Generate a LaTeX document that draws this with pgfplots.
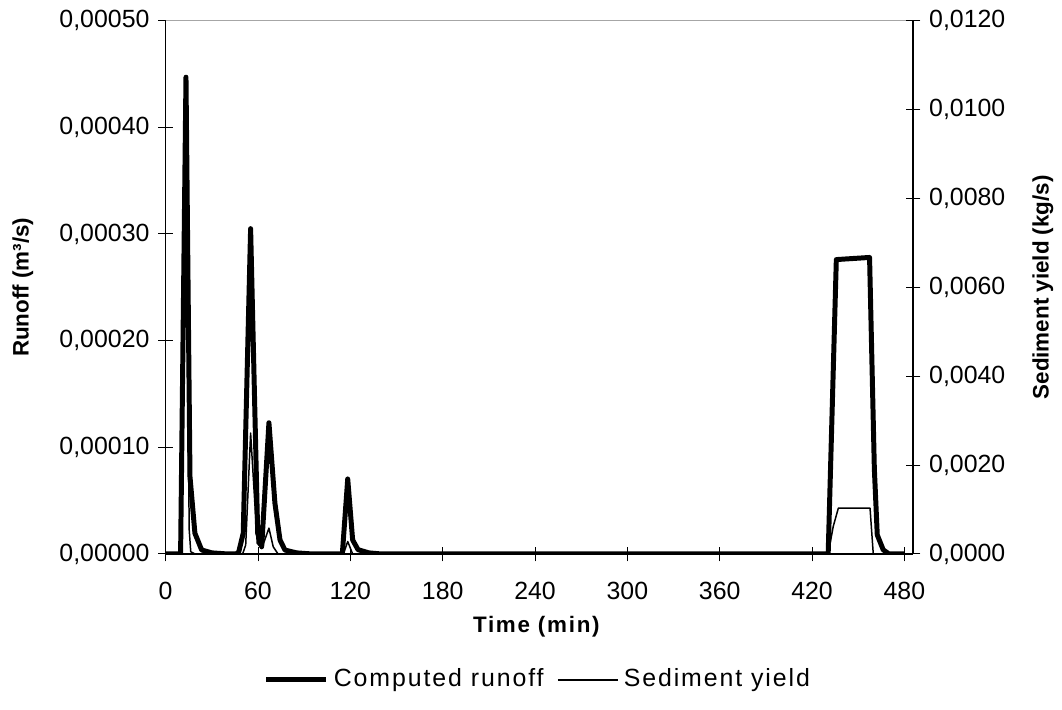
\documentclass[border=0pt]{standalone}
\usepackage{fontspec}
\setmainfont{Liberation Sans}
\newfontfamily\spaced[LetterSpace=7.7]{Liberation Sans}
\usepackage{pgfplots}
\pgfplotsset{compat=1.18}

\pgfplotstableread{
t      q
0      0
9.7    0
13.2   0.000447
15.8   0.0000725
19.0   0.0000194
23.4   0.0000037
30     0.000001
40     0
46     0
47.5   0.000002
50.4   0.0000194
55.2   0.000305
59.8   0.0000194
62.4   0.0000068
67.1   0.000123
71.0   0.0000475
74.3   0.0000131
77.5   0.0000037
85     0.000001
95     0
114.8  0
118.3  0.0000703
121.5  0.0000131
125    0.000004
132    0.000001
140    0
430.5  0
435.8  0.000276
457.4  0.000278
460.5  0.00008
462.4  0.0000178
466.3  0.0000038
470    0
480    0
}\runoff

\pgfplotstableread{
t      s
0      0
9.8    0
13.2   0.0080
15.3   0.00054
16.3   0.00005
19     0
50     0
52     0.0002
55.2   0.00272
59.5   0.00024
62.4   0.00012
67.1   0.00058
69.9   0.00016
73     0
115.5  0
118.3  0.00028
121.5  0
430.5  0
433.8  0.00062
437.1  0.00103
457.7  0.00103
459.8  0
480    0
}\sediment

\begin{document}
\begin{tikzpicture}
\useasboundingbox (-2.340cm,-2.203cm) rectangle (12.660cm,7.824cm);
\pgfplotsset{
  chartbase/.style={
    scale only axis, width=10.555cm, height=7.532cm,
    xmin=0, xmax=485.6,
    tick align=center, major tick length=0.21cm,
    tick style={black, line width=0.4pt},
    axis line style={-, line width=0.5pt},
    tick label style={font=\fontsize{10}{12}\selectfont},
    label style={font=\fontsize{9}{11}\selectfont\bfseries},
    /pgf/number format/assume math mode=true,
    scaled y ticks=false,
  }
}
\begin{axis}[chartbase,
  axis y line*=left, axis x line*=bottom,
  ymin=0, ymax=0.0005,
  ytick={0,0.0001,0.0002,0.0003,0.0004,0.0005},
  xtick={0,60,120,180,240,300,360,420,480},
  xticklabel style={yshift=-0.17cm},
  yticklabel style={/pgf/number format/.cd, fixed, fixed zerofill, precision=5, use comma},
  ylabel={Runoff (m³/s)},
  ylabel style={at={(axis description cs:-0.191,0.5)}, anchor=center},
  xlabel={{\spaced Time (min)}},
  xlabel style={at={(axis description cs:0.496,-0.137)}, anchor=center},
  after end axis/.code={\draw[gray!70, line width=0.5pt] (rel axis cs:0,1) -- (rel axis cs:1,1);},
]
\addplot[black, line width=2pt, line join=round] table[x=t, y=q] {\runoff};
\end{axis}

\begin{axis}[chartbase,
  axis y line*=right, axis x line=none,
  ymin=0, ymax=0.012,
  ytick={0,0.002,0.004,0.006,0.008,0.010,0.012},
  yticklabel style={/pgf/number format/.cd, fixed, fixed zerofill, precision=4, use comma},
  ylabel={Sediment yield (kg/s)},
  ylabel style={at={(axis description cs:1.174,0.5)}, anchor=center},
  legend style={at={(axis description cs:0.5,-0.236)}, anchor=center, draw=none,
    font=\fontsize{10}{12}\selectfont\spaced, legend columns=2,
    /tikz/every even column/.append style={column sep=0.12cm}},
  legend image code/.code={\draw[#1] (0cm,0cm) -- (0.85cm,0cm);},
]
\addlegendimage{black, line width=2pt}
\addlegendentry{Computed runoff}
\addplot[black, line width=0.6pt, line join=round] table[x=t, y=s] {\sediment};
\addlegendentry{Sediment yield}
\end{axis}
\end{tikzpicture}
\end{document}
